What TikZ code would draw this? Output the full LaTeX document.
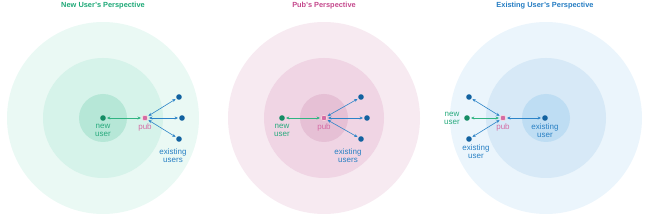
\documentclass[tikz,border=0pt]{standalone}
\usepackage{fontspec}
\setmainfont{Liberation Sans}
\usetikzlibrary{arrows.meta, positioning}

\definecolor{greenT}{RGB}{28,168,118}
\definecolor{greenA}{RGB}{234,249,244}
\definecolor{greenB}{RGB}{214,243,234}
\definecolor{greenC}{RGB}{182,231,215}
\definecolor{pinkT}{RGB}{196,72,140}
\definecolor{pinkA}{RGB}{247,234,241}
\definecolor{pinkB}{RGB}{240,213,228}
\definecolor{pinkC}{RGB}{230,192,213}
\definecolor{blueT}{RGB}{36,124,194}
\definecolor{blueA}{RGB}{235,245,252}
\definecolor{blueB}{RGB}{215,233,247}
\definecolor{blueC}{RGB}{190,221,243}
\definecolor{newcol}{RGB}{20,140,100}
\definecolor{newtxt}{RGB}{40,170,125}
\definecolor{pubcol}{RGB}{212,108,164}
\definecolor{oldcol}{RGB}{18,98,160}
\definecolor{oldtxt}{RGB}{40,128,196}
\definecolor{greenline}{RGB}{48,180,130}
\definecolor{blueline}{RGB}{44,132,200}

\begin{document}
\begin{tikzpicture}[x=1pt, y=-1pt, >={Stealth[length=3.4pt, width=3pt]},
                    dot/.style={circle, inner sep=0pt, minimum size=5.6pt},
                    newdot/.style={dot, fill=newcol},
                    pubdot/.style={dot, fill=pubcol, draw=pink!40, line width=0.5pt},
                    olddot/.style={dot, fill=oldcol},
                    title/.style={font=\fontsize{7.4}{8}\selectfont\bfseries},
                    lbl/.style={font=\fontsize{8}{8.2}\selectfont, align=center, inner sep=0pt},
                    gline/.style={<->, greenline, line width=0.6pt, shorten <=1pt, shorten >=1pt},
                    bline/.style={<->, blueline, line width=0.6pt, shorten <=1pt, shorten >=1pt}]
    \useasboundingbox (0,0) rectangle (650,221);

    % New user's perspective
    \fill[greenA] (103,118) circle (96);
    \fill[greenB] (103,118) circle (60);
    \fill[greenC] (103,118) circle (24);
    \node[title, text=greenT] (t1) at (103,6) {New User’s Perspective};

    \node[newdot] (n1) at (103,118) {};
    \node[pubdot] (p1) at (145,118) {};
    \node[olddot] (e1a) at (179,97) {};
    \node[olddot] (e1b) at (182,118) {};
    \node[olddot] (e1c) at (179,139) {};

    \node[lbl, text=newtxt, below=2.5pt of n1] (n1l) {new\\user};
    \node[lbl, text=pubcol, below=2.5pt of p1] (p1l) {pub};
    \node[lbl, text=oldtxt] (e1l) at (173,156) {existing\\users};

    \draw[gline] (n1) -- (p1);
    \draw[bline] (p1) -- (e1a);
    \draw[bline] (p1) -- (e1b);
    \draw[bline] (p1) -- (e1c);

    % Pub's perspective
    \fill[pinkA] (324,118) circle (96);
    \fill[pinkB] (324,118) circle (60);
    \fill[pinkC] (324,118) circle (24);
    \node[title, text=pinkT] (t2) at (324,6) {Pub’s Perspective};

    \node[newdot] (n2) at (282,118) {};
    \node[pubdot] (p2) at (324,118) {};
    \node[olddot] (e2a) at (361,97) {};
    \node[olddot] (e2b) at (367,118) {};
    \node[olddot] (e2c) at (361,139) {};

    \node[lbl, text=newtxt, below=2.5pt of n2] (n2l) {new\\user};
    \node[lbl, text=pubcol, below=2.5pt of p2] (p2l) {pub};
    \node[lbl, text=oldtxt] (e2l) at (348,156) {existing\\users};

    \draw[gline] (n2) -- (p2);
    \draw[bline] (p2) -- (e2a);
    \draw[bline] (p2) -- (e2b);
    \draw[bline] (p2) -- (e2c);

    % Existing user's perspective
    \fill[blueA] (546,118) circle (96);
    \fill[blueB] (546,118) circle (60);
    \fill[blueC] (546,118) circle (24);
    \node[title, text=blueT] (t3) at (545,6) {Existing User’s Perspective};

    \node[olddot] (e3) at (545,118) {};
    \node[pubdot] (p3) at (503,118) {};
    \node[newdot] (n3) at (467,118) {};
    \node[olddot] (e3a) at (469,97) {};
    \node[olddot] (e3c) at (469,139) {};

    \node[lbl, text=oldtxt, below=2.5pt of e3] (e3l) {existing\\user};
    \node[lbl, text=pubcol, below=2.5pt of p3] (p3l) {pub};
    \node[lbl, text=newtxt, left=4pt of n3] (n3l) {new\\user};
    \node[lbl, text=oldtxt] (e3cl) at (476,152) {existing\\user};

    \draw[bline] (p3) -- (e3);
    \draw[gline] (n3) -- (p3);
    \draw[bline] (p3) -- (e3a);
    \draw[bline] (p3) -- (e3c);

\end{tikzpicture}
\end{document}
